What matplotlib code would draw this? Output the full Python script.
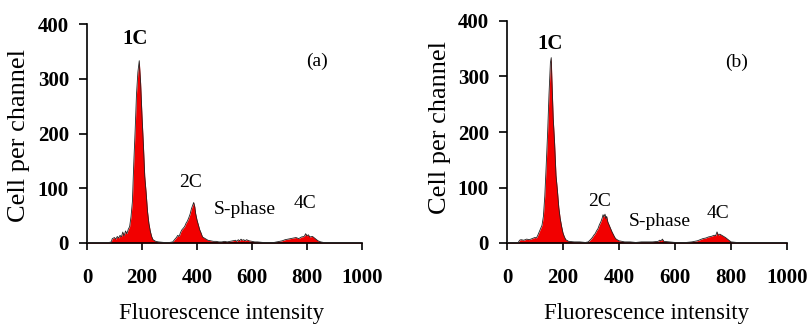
import matplotlib
matplotlib.use("Agg")
import matplotlib.pyplot as plt

# ---------------- data ----------------
# Panel (a): fluorescence channel vs cells per channel
xa = [0, 20, 40, 60, 80, 88, 92, 100, 105, 110, 115, 120, 125, 130, 135, 140, 145, 150,
      155, 160, 165, 170, 175, 180, 185, 190, 195, 200, 205, 210, 215, 220, 225, 230,
      235, 240, 250, 260, 280, 300, 312, 318, 325, 330, 335, 340, 345, 350, 355, 360,
      365, 370, 375, 380, 385, 388, 392, 395, 400, 405, 410, 415, 420, 430, 440, 450,
      460, 470, 480, 490, 500, 510, 520, 530, 540, 545, 550, 555, 560, 565, 570, 575,
      580, 590, 600, 610, 620, 640, 660, 680, 700, 710, 720, 730, 740, 750, 760, 770,
      780, 790, 795, 800, 805, 810, 820, 830, 840, 850, 860, 880, 920, 1000]
ya = [1, 1, 1, 1, 1, 2, 8, 10, 7, 12, 9, 14, 11, 20, 13, 22, 17, 25,
      30, 48, 75, 145, 205, 272, 312, 333, 292, 232, 180, 122, 92, 58, 36, 22,
      12, 6, 3, 2, 1, 1, 2, 6, 10, 14, 12, 19, 24, 27, 30, 36,
      40, 46, 53, 63, 70, 74, 66, 54, 42, 33, 24, 18, 11, 8, 5, 4,
      3, 3, 2, 2, 3, 2, 3, 4, 5, 3, 6, 4, 7, 5, 6, 4,
      6, 4, 3, 2, 2, 1, 1, 1, 3, 4, 6, 7, 8, 9, 10, 8,
      11, 12, 17, 13, 15, 11, 12, 8, 4, 2, 1, 1, 1, 1]

# Panel (b)
xb = [0, 20, 40, 45, 50, 60, 70, 80, 90, 100, 105, 110, 115, 120, 125, 130, 135, 140,
      145, 150, 155, 158, 160, 165, 170, 175, 180, 185, 190, 195, 200, 205, 210, 220,
      240, 260, 280, 290, 300, 305, 310, 315, 320, 325, 330, 335, 340, 343, 346, 350,
      353, 356, 360, 365, 370, 375, 380, 385, 390, 400, 410, 420, 440, 460, 480, 500,
      520, 540, 545, 550, 555, 560, 580, 600, 640, 660, 670, 680, 690, 700, 710, 720,
      730, 740, 745, 750, 755, 760, 770, 780, 790, 800, 820, 860, 920, 1000]
yb = [1, 1, 1, 5, 6, 5, 7, 6, 8, 10, 9, 14, 20, 26, 32, 48, 85, 140,
      198, 268, 325, 334, 300, 225, 180, 122, 95, 64, 44, 30, 18, 11, 6, 3,
      2, 2, 1, 2, 7, 10, 14, 17, 22, 26, 33, 38, 45, 51, 47, 52,
      44, 48, 38, 32, 26, 20, 15, 10, 7, 4, 3, 2, 2, 1, 2, 2,
      2, 3, 5, 4, 7, 3, 2, 1, 1, 2, 3, 4, 6, 8, 9, 11,
      12, 14, 13, 20, 14, 16, 13, 10, 6, 2, 1, 1, 1, 1]

x_ticks = [0, 200, 400, 600, 800, 1000]
y_ticks = [0, 100, 200, 300, 400]
x_label = "Fluorescence intensity"
y_label = "Cell per channel"

serif = ["Liberation Serif", "DejaVu Serif"]
W, H = 809, 324
fig = plt.figure(figsize=(W / 100, H / 100), dpi=100)
fig.patch.set_facecolor("white")


def px(x, y):
    return x / W, 1 - y / H


panels = [
    dict(x=xa, y=ya, l=87, r=362, t=24, b=243, tag="(a)", tagpos=(836, 332),
         c1=(175, 372), c2=(375, 110), sp=(575, 62), c4=(793, 73),
         ylab=(19, 136), xlab=(222, 313)),
    dict(x=xb, y=yb, l=507, r=787, t=21, b=243, tag="(b)", tagpos=(821, 326),
         c1=(154, 358), c2=(332, 74), sp=(546, 38), c4=(754, 54),
         ylab=(440, 128), xlab=(647, 313)),
]

for p in panels:
    ax = fig.add_axes([p["l"] / W, 1 - p["b"] / H, (p["r"] - p["l"]) / W, (p["b"] - p["t"]) / H])
    ax.fill_between(p["x"], 0, p["y"], color="#f20000", linewidth=0, zorder=2)
    ax.plot(p["x"], p["y"], color="#222222", linewidth=0.6, zorder=3)
    ax.set_xlim(0, 1000)
    ax.set_ylim(0, 400)
    ax.set_xticks(x_ticks)
    ax.set_yticks(y_ticks)
    for s in ["top", "right"]:
        ax.spines[s].set_visible(False)
    for s in ["left", "bottom"]:
        ax.spines[s].set_linewidth(1.2)
        ax.spines[s].set_color("black")
    ax.tick_params(axis="x", direction="out", length=5, width=1.2, pad=13)
    ax.tick_params(axis="y", direction="out", length=5.5, width=1.2, pad=7.5)
    for lab in ax.get_xticklabels() + ax.get_yticklabels():
        lab.set_family(serif)
        lab.set_fontsize(15)
        lab.set_fontweight("bold")
    ax.text(*p["c1"], "1C", family=serif, fontsize=15, fontweight="bold", ha="center", va="center")
    ax.text(*p["c2"], "2C", family=serif, fontsize=14, ha="center", va="center")
    ax.text(*p["sp"], "S-phase", family=serif, fontsize=14, ha="center", va="center")
    ax.text(*p["c4"], "4C", family=serif, fontsize=14, ha="center", va="center")
    ax.text(*p["tagpos"], p["tag"], family=serif, fontsize=14, ha="center", va="center")
    fig.text(*px(*p["ylab"]), y_label, family=serif, fontsize=19, rotation=90,
             ha="center", va="center")
    fig.text(*px(*p["xlab"]), x_label, family=serif, fontsize=16.5, ha="center", va="center")

fig.savefig("out.png", dpi=100, facecolor="white")
